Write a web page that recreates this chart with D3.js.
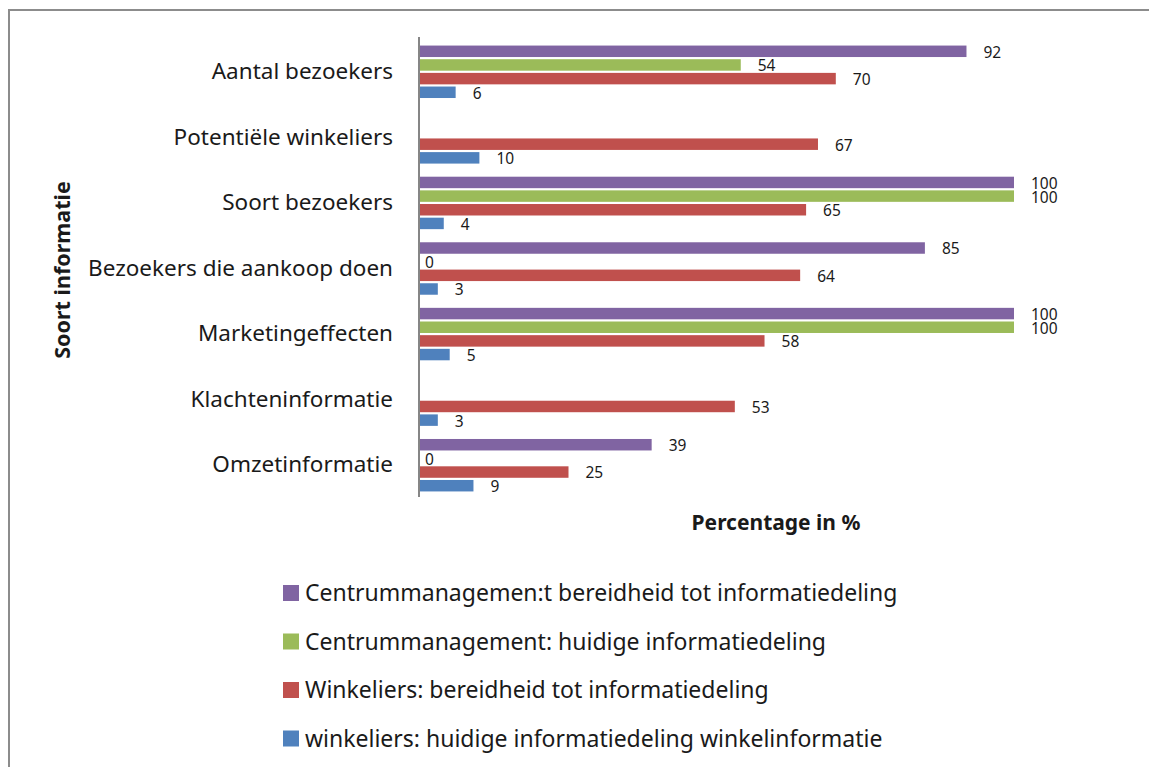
<!DOCTYPE html>
<html>
<head>
<meta charset="utf-8">
<script src="https://cdn.jsdelivr.net/npm/d3@7"></script>
<style>
  body { margin: 0; background: #fff; }
  svg { display: block; font-family: "Noto Sans", "Open Sans", sans-serif; }
</style>
</head>
<body>
<svg id="chart" width="1149" height="767"></svg>
<script>
const categories = [
  "Aantal bezoekers",
  "Potentiële winkeliers",
  "Soort bezoekers",
  "Bezoekers die aankoop doen",
  "Marketingeffecten",
  "Klachteninformatie",
  "Omzetinformatie",
];

const seriesNames = [
  "Centrummanagemen:t bereidheid tot informatiedeling",
  "Centrummanagement: huidige informatiedeling",
  "Winkeliers: bereidheid tot informatiedeling",
  "winkeliers: huidige informatiedeling winkelinformatie",
];

const seriesColors = ["#8064A2", "#9BBB59", "#C0504D", "#4F81BD"];

// null = geen balk en geen label
const cmBereid = [92, null, 100, 85, 100, null, 39];
const cmHuidig = [54, null, 100, 0, 100, null, 0];
const wBereid = [70, 67, 65, 64, 58, 53, 25];
const wHuidig = [6, 10, 4, 3, 5, 3, 9];

const seriesValues = [cmBereid, cmHuidig, wBereid, wHuidig];

const svg = d3.select("#chart");

// outer frame
svg.append("rect")
  .attr("x", 9).attr("y", 10)
  .attr("width", 1160).attr("height", 780)
  .attr("fill", "none")
  .attr("stroke", "#8c8c8c")
  .attr("stroke-width", 2);

const plot = { left: 420, right: 1014, top: 37, bottom: 497 };

const x = d3.scaleLinear().domain([0, 100]).range([plot.left, plot.right]);

const y = d3.scaleBand()
  .domain(categories)
  .range([plot.top + 2, plot.bottom + 1])
  .paddingInner(0.2)
  .paddingOuter(0.1);

const ySub = d3.scaleBand()
  .domain(d3.range(seriesNames.length))
  .range([0, y.bandwidth()])
  .paddingInner(0.16);

const g = svg.append("g");

const rows = [];
seriesValues.forEach((vals, s) => {
  vals.forEach((v, i) => {
    if (v !== null) rows.push({ cat: categories[i], s, v });
  });
});

g.selectAll("rect.bar")
  .data(rows)
  .join("rect")
  .attr("class", "bar")
  .attr("x", x(0))
  .attr("y", (d) => y(d.cat) + ySub(d.s))
  .attr("width", (d) => x(d.v) - x(0))
  .attr("height", ySub.bandwidth())
  .attr("fill", (d) => seriesColors[d.s]);

g.selectAll("text.val")
  .data(rows)
  .join("text")
  .attr("class", "val")
  .attr("x", (d) => x(d.v) + (d.v === 0 ? 5 : 17))
  .attr("y", (d) => y(d.cat) + ySub(d.s) + ySub.bandwidth() / 2 + 1)
  .attr("dy", "0.35em")
  .attr("font-size", 15.5)
  .attr("fill", "#1a1a1a")
  .text((d) => d.v);

// vertical axis
const yAxis = d3.axisLeft(y).tickSize(0).tickPadding(26);
const axisG = svg.append("g")
  .attr("transform", `translate(${plot.left - 1},0)`)
  .call(yAxis);
axisG.select(".domain")
  .attr("d", `M0,${plot.top}V${plot.bottom}`)
  .attr("stroke", "#868686").attr("stroke-width", 2);
axisG.selectAll(".tick text")
  .attr("font-size", 22.5)
  .attr("font-family", "'Noto Sans', sans-serif")
  .attr("fill", "#1a1a1a");

// axis titles
svg.append("text")
  .attr("x", 776).attr("y", 530)
  .attr("text-anchor", "middle")
  .attr("font-size", 21)
  .attr("font-weight", "bold")
  .attr("fill", "#1a1a1a")
  .text("Percentage in %");

svg.append("text")
  .attr("transform", "translate(70,270) rotate(-90)")
  .attr("text-anchor", "middle")
  .attr("font-size", 21.5)
  .attr("font-weight", "bold")
  .attr("fill", "#1a1a1a")
  .text("Soort informatie");

// legend
const legend = svg.append("g").attr("transform", "translate(283,593)");
const item = legend.selectAll("g")
  .data(seriesNames)
  .join("g")
  .attr("transform", (d, i) => `translate(0,${i * 48.5})`);
item.append("rect")
  .attr("x", 0).attr("y", -8)
  .attr("width", 16).attr("height", 16)
  .attr("fill", (d, i) => seriesColors[i]);
item.append("text")
  .attr("x", 22)
  .attr("dy", "0.35em")
  .attr("font-size", 23)
  .attr("fill", "#1a1a1a")
  .text((d) => d);
</script>
</body>
</html>
